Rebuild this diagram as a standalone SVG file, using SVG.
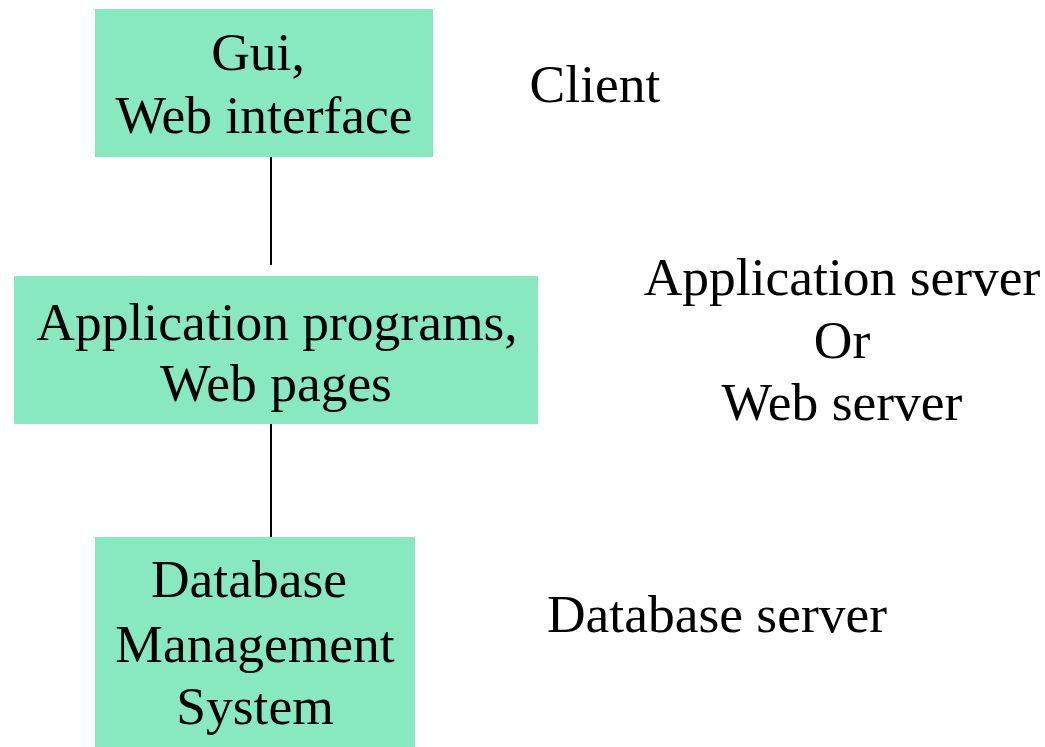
<svg xmlns="http://www.w3.org/2000/svg" width="1045" height="747" viewBox="0 0 1045 747">
<style>
.box{fill:#88E9C1;stroke:none}
.t{font-family:"Liberation Serif","Times New Roman",serif;font-size:53.5px;fill:#000;text-anchor:middle}
.c{stroke:#000;stroke-width:2;fill:none}
</style>
<rect width="1045" height="747" fill="#fff"/>
<g id="connectors">
<line class="c" x1="271" y1="153" x2="271" y2="265"/>
<line class="c" x1="271" y1="424" x2="271" y2="537"/>
</g>
<g id="client-node">
<rect class="box" x="95" y="9" width="338" height="148"/>
<text class="t" x="258" y="70">Gui,</text>
<text class="t" x="264" y="133">Web interface</text>
</g>
<g id="app-node">
<rect class="box" x="14" y="276" width="524" height="148"/>
<text class="t" x="277" y="340">Application programs,</text>
<text class="t" x="276" y="401">Web pages</text>
</g>
<g id="db-node">
<rect class="box" x="95" y="537" width="320" height="210"/>
<text class="t" x="249" y="597">Database</text>
<text class="t" x="255" y="662">Management</text>
<text class="t" x="255" y="724">System</text>
</g>
<g id="labels">
<text class="t" x="595" y="102">Client</text>
<text class="t" x="842" y="295">Application server</text>
<text class="t" x="842" y="358">Or</text>
<text class="t" x="842" y="420">Web server</text>
<text class="t" x="717" y="632">Database server</text>
</g>
</svg>
